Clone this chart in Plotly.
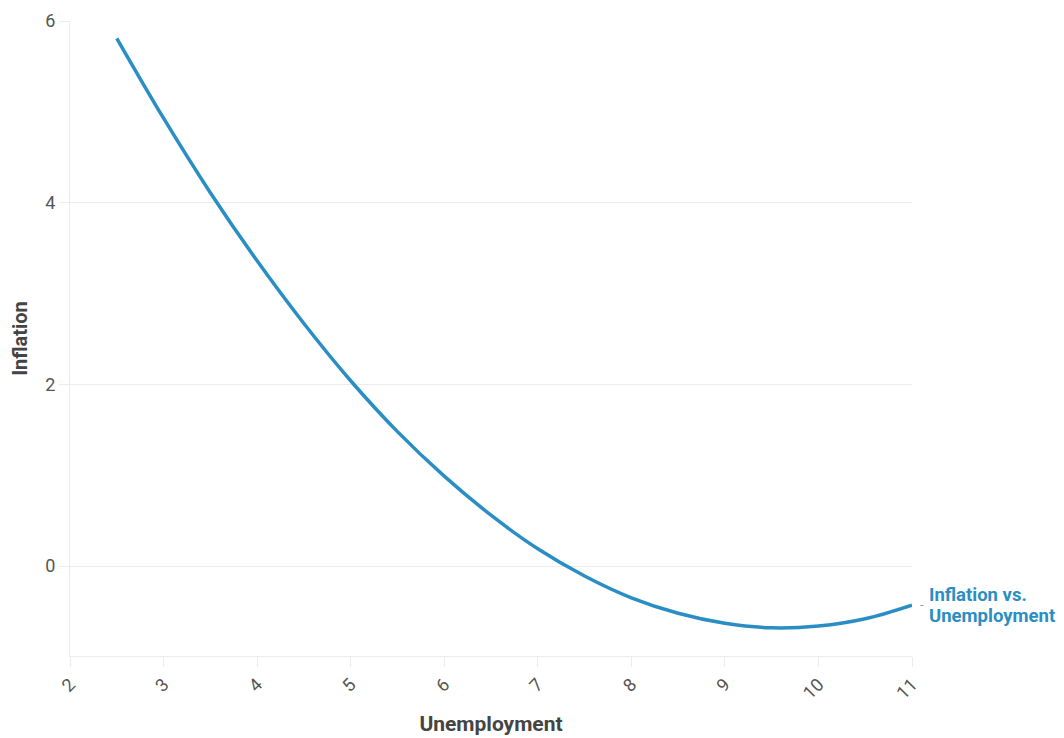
import plotly.graph_objects as go

unemployment = [2.5, 3.0, 3.5, 4.0, 4.5, 5.0, 5.5, 6.0, 6.5, 7.0, 7.5, 8.0, 8.5, 9.0, 9.5, 10.0, 10.5, 11.0]
inflation = [5.81, 4.93, 4.11, 3.36, 2.67, 2.04, 1.48, 0.99, 0.56, 0.19, -0.11, -0.35, -0.52, -0.63, -0.68, -0.66, -0.58, -0.43]
series_label_lines = ["Inflation vs.", "Unemployment"]
x_ticks = [2, 3, 4, 5, 6, 7, 8, 9, 10, 11]
y_ticks = [0, 2, 4, 6]

blue = "#2a8ec4"
grid = "#ececec"
tickc = "#555555"

fig = go.Figure()
fig.add_trace(go.Scatter(x=unemployment, y=inflation, mode="lines",
                         line=dict(color=blue, width=3.5, shape="spline", smoothing=1.0),
                         showlegend=False, hoverinfo="skip"))

fig.add_annotation(x=unemployment[-1], y=inflation[-1], text="-", showarrow=False,
                   xanchor="left", xshift=6, yshift=1, font=dict(family="Roboto", size=13, color="#999999"))
for i, line in enumerate(series_label_lines):
    fig.add_annotation(x=unemployment[-1], y=inflation[-1], text="<b>" + line + "</b>", showarrow=False,
                       xanchor="left", yanchor="middle", xshift=16, yshift=10 - 21 * i, align="left",
                       borderpad=0, font=dict(family="Roboto", size=18.5, color=blue))

fig.update_layout(
    width=1064, height=738,
    margin=dict(l=62, r=160, t=13, b=90),
    paper_bgcolor="white", plot_bgcolor="white",
    font=dict(family="Roboto", color=tickc, size=18),
    xaxis=dict(range=[2, 11], tickvals=x_ticks, tickangle=-45, automargin=False,
               showgrid=False, showline=True, linecolor=grid, linewidth=1,
               ticks="outside", ticklen=10, tickcolor=grid,
               tickfont=dict(family="Roboto", size=18, color=tickc),
               title=dict(text="<b>Unemployment</b>", font=dict(family="Roboto", size=21, color="#444444"), standoff=14),
               zeroline=False),
    yaxis=dict(range=[-0.99, 6], tickvals=y_ticks, automargin=False,
               showgrid=True, gridcolor=grid, gridwidth=1,
               showline=True, linecolor=grid, linewidth=1,
               ticks="outside", ticklen=10, tickcolor=grid,
               tickfont=dict(family="Roboto", size=18, color=tickc),
               title=dict(text="<b>Inflation</b>", font=dict(family="Roboto", size=20, color="#444444"), standoff=16),
               zeroline=False),
)

fig.write_html("out.html")
